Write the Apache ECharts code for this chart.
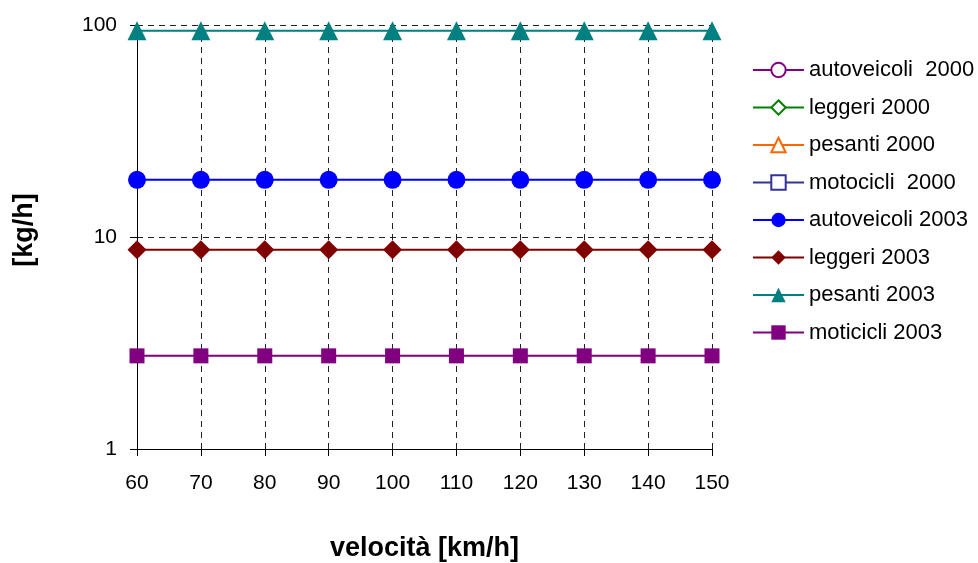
<!DOCTYPE html>
<html>
<head>
<meta charset="utf-8">
<script src="https://cdn.jsdelivr.net/npm/echarts@6/dist/echarts.min.js"></script>
<style>
  html, body { margin: 0; padding: 0; background: #fff; }
  #chart { width: 978px; height: 563px; }
</style>
</head>
<body>
<div id="chart"></div>
<script>
// Speeds along the horizontal axis [km/h]
const speeds = [60, 70, 80, 90, 100, 110, 120, 130, 140, 150];

// Emission rates [kg/h] per vehicle class
const autoveicoli2000 = [];
const leggeri2000 = [];
const pesanti2000 = [];
const motocicli2000 = [];
const autoveicoli2003 = [18.6, 18.6, 18.6, 18.6, 18.6, 18.6, 18.6, 18.6, 18.6, 18.6];
const leggeri2003 = [8.7, 8.7, 8.7, 8.7, 8.7, 8.7, 8.7, 8.7, 8.7, 8.7];
const pesanti2003 = [94, 94, 94, 94, 94, 94, 94, 94, 94, 94];
const moticicli2003 = [2.75, 2.75, 2.75, 2.75, 2.75, 2.75, 2.75, 2.75, 2.75, 2.75];

const seriesNames = [
  'autoveicoli  2000', 'leggeri 2000', 'pesanti 2000', 'motocicli  2000',
  'autoveicoli 2003', 'leggeri 2003', 'pesanti 2003', 'moticicli 2003'
];

const FONT = 'Liberation Sans, Arial, sans-serif';

function pairs(values) {
  return values.map((v, i) => [speeds[i], v]);
}

function lineSeries(name, values, color, symbol, size) {
  return {
    name: name,
    type: 'line',
    data: pairs(values),
    symbol: symbol,
    symbolSize: size,
    showAllSymbol: true,
    lineStyle: { color: color, width: 2 },
    itemStyle: { color: color, borderColor: color, borderWidth: symbol.startsWith('empty') ? 2 : 0 },
    emphasis: { disabled: true },
    animation: false
  };
}

const chart = echarts.init(document.getElementById('chart'), null, { renderer: 'canvas' });

chart.setOption({
  backgroundColor: '#ffffff',
  animation: false,
  grid: { left: 137, right: 266, top: 25, bottom: 114, outerBoundsMode: 'none', containLabel: false },
  legend: {
    orient: 'vertical',
    left: 747,
    top: 54,
    itemWidth: 51,
    itemHeight: 18,
    itemGap: 15.5,
    textStyle: { fontFamily: FONT, fontSize: 22, lineHeight: 22, color: '#000' },
    data: seriesNames
  },
  xAxis: {
    type: 'value',
    min: 60,
    max: 150,
    interval: 10,
    name: 'velocità [km/h]',
    nameLocation: 'middle',
    nameGap: 86,
    nameTextStyle: { fontFamily: FONT, fontSize: 27, fontWeight: 'bold', color: '#000' },
    axisLine: { show: true, lineStyle: { color: '#000', width: 1 } },
    axisTick: { show: true, inside: false, length: 7, lineStyle: { color: '#000' } },
    axisLabel: { fontFamily: FONT, fontSize: 21, color: '#000', margin: 24 },
    splitLine: { show: true, lineStyle: { color: '#222', width: 1, type: [6, 5] } }
  },
  yAxis: {
    type: 'log',
    logBase: 10,
    min: 1,
    max: 100,
    name: '[kg/h]',
    nameLocation: 'middle',
    nameGap: 99,
    nameRotate: 90,
    nameTextStyle: { fontFamily: FONT, fontSize: 27, fontWeight: 'bold', color: '#000', padding: [0, 0, 0, 14] },
    axisLine: { show: true, lineStyle: { color: '#000', width: 1 } },
    axisTick: { show: true, inside: false, length: 7, lineStyle: { color: '#000' } },
    axisLabel: { fontFamily: FONT, fontSize: 21, color: '#000', margin: 20 },
    splitLine: { show: true, lineStyle: { color: '#222', width: 1, type: [6, 5] } }
  },
  series: [
    lineSeries(seriesNames[0], autoveicoli2000, '#800080', 'emptyCircle', 13),
    lineSeries(seriesNames[1], leggeri2000, '#008000', 'emptyDiamond', 14),
    lineSeries(seriesNames[2], pesanti2000, '#FF6600', 'emptyTriangle', 14),
    lineSeries(seriesNames[3], motocicli2000, '#333399', 'emptyRect', 12),
    lineSeries(seriesNames[4], autoveicoli2003, '#0000FF', 'circle', 18),
    lineSeries(seriesNames[5], leggeri2003, '#800000', 'diamond', 19),
    lineSeries(seriesNames[6], pesanti2003, '#008080', 'triangle', 19),
    lineSeries(seriesNames[7], moticicli2003, '#800080', 'rect', 15)
  ]
});
</script>
</body>
</html>
